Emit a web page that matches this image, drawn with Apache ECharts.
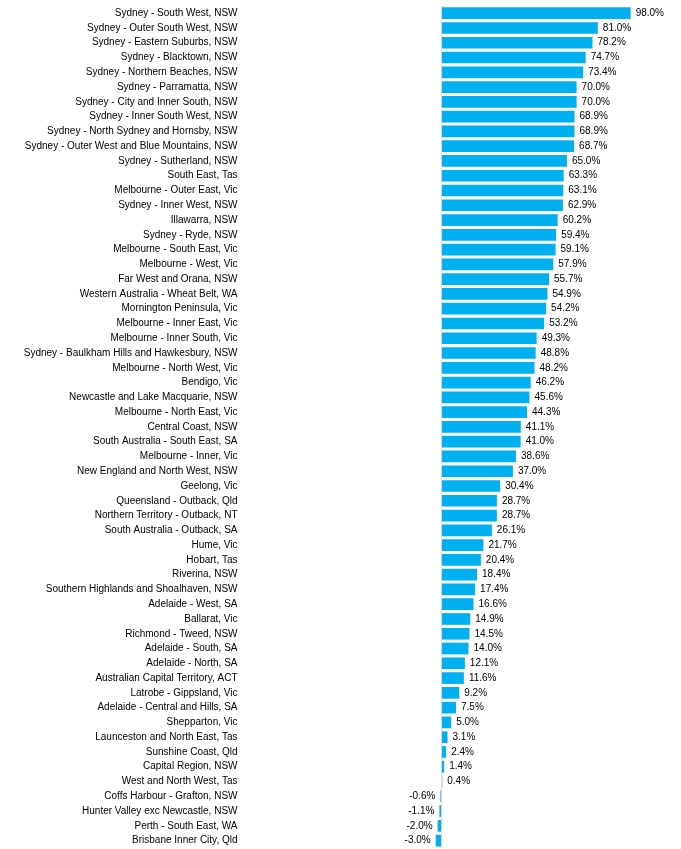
<!DOCTYPE html>
<html><head><meta charset="utf-8">
<script src="https://cdn.jsdelivr.net/npm/echarts@6/dist/echarts.min.js"></script>
<style>html,body{margin:0;padding:0;background:#fff}#c{width:681px;height:849px}</style>
</head><body><div id="c"></div>
<script>
const categories = [
"Sydney - South West, NSW","Sydney - Outer South West, NSW","Sydney - Eastern Suburbs, NSW","Sydney - Blacktown, NSW",
"Sydney - Northern Beaches, NSW","Sydney - Parramatta, NSW","Sydney - City and Inner South, NSW","Sydney - Inner South West, NSW",
"Sydney - North Sydney and Hornsby, NSW","Sydney - Outer West and Blue Mountains, NSW","Sydney - Sutherland, NSW","South East, Tas",
"Melbourne - Outer East, Vic","Sydney - Inner West, NSW","Illawarra, NSW","Sydney - Ryde, NSW","Melbourne - South East, Vic",
"Melbourne - West, Vic","Far West and Orana, NSW","Western Australia - Wheat Belt, WA","Mornington Peninsula, Vic",
"Melbourne - Inner East, Vic","Melbourne - Inner South, Vic","Sydney - Baulkham Hills and Hawkesbury, NSW","Melbourne - North West, Vic",
"Bendigo, Vic","Newcastle and Lake Macquarie, NSW","Melbourne - North East, Vic","Central Coast, NSW","South Australia - South East, SA",
"Melbourne - Inner, Vic","New England and North West, NSW","Geelong, Vic","Queensland - Outback, Qld","Northern Territory - Outback, NT",
"South Australia - Outback, SA","Hume, Vic","Hobart, Tas","Riverina, NSW","Southern Highlands and Shoalhaven, NSW","Adelaide - West, SA",
"Ballarat, Vic","Richmond - Tweed, NSW","Adelaide - South, SA","Adelaide - North, SA","Australian Capital Territory, ACT",
"Latrobe - Gippsland, Vic","Adelaide - Central and Hills, SA","Shepparton, Vic","Launceston and North East, Tas","Sunshine Coast, Qld",
"Capital Region, NSW","West and North West, Tas","Coffs Harbour - Grafton, NSW","Hunter Valley exc Newcastle, NSW","Perth - South East, WA",
"Brisbane Inner City, Qld"];
const values = [98.0,81.0,78.2,74.7,73.4,70.0,70.0,68.9,68.9,68.7,65.0,63.3,63.1,62.9,60.2,59.4,59.1,57.9,55.7,54.9,54.2,53.2,49.3,48.8,48.2,
46.2,45.6,44.3,41.1,41.0,38.6,37.0,30.4,28.7,28.7,26.1,21.7,20.4,18.4,17.4,16.6,14.9,14.5,14.0,12.1,11.6,9.2,7.5,5.0,3.1,2.4,1.4,0.4,
-0.6,-1.1,-2.0,-3.0];
const FONT = "Liberation Sans";
const chart = echarts.init(document.getElementById('c'), null, {renderer:'canvas'});
chart.setOption({
  animation:false,
  grid:{left:248.5, width:386, top:5.8, bottom:1, containLabel:false},
  xAxis:{type:'value', min:-100, max:100, show:false},
  yAxis:{type:'category', data:categories, inverse:true,
    axisLine:{show:false}, axisTick:{show:false}, splitLine:{show:false},
    axisLabel:{margin:11, color:'#000', fontSize:10, fontFamily:FONT, interval:0}},
  series:[{type:'bar', barCategoryGap:'21%',
    data: values.map(v=>({value:v, label:{position: v<0?'left':'right'}})),
    itemStyle:{color:'#00B0F0'},
    label:{show:true, distance:5, color:'#000', fontSize:10, fontFamily:FONT, formatter:p=>p.value.toFixed(1)+'%'},
    markLine:{silent:true, symbol:'none', label:{show:false}, lineStyle:{color:'#d9d9d9', type:'solid', width:1}, data:[{xAxis:0}]}
  }]
});
</script></body></html>
